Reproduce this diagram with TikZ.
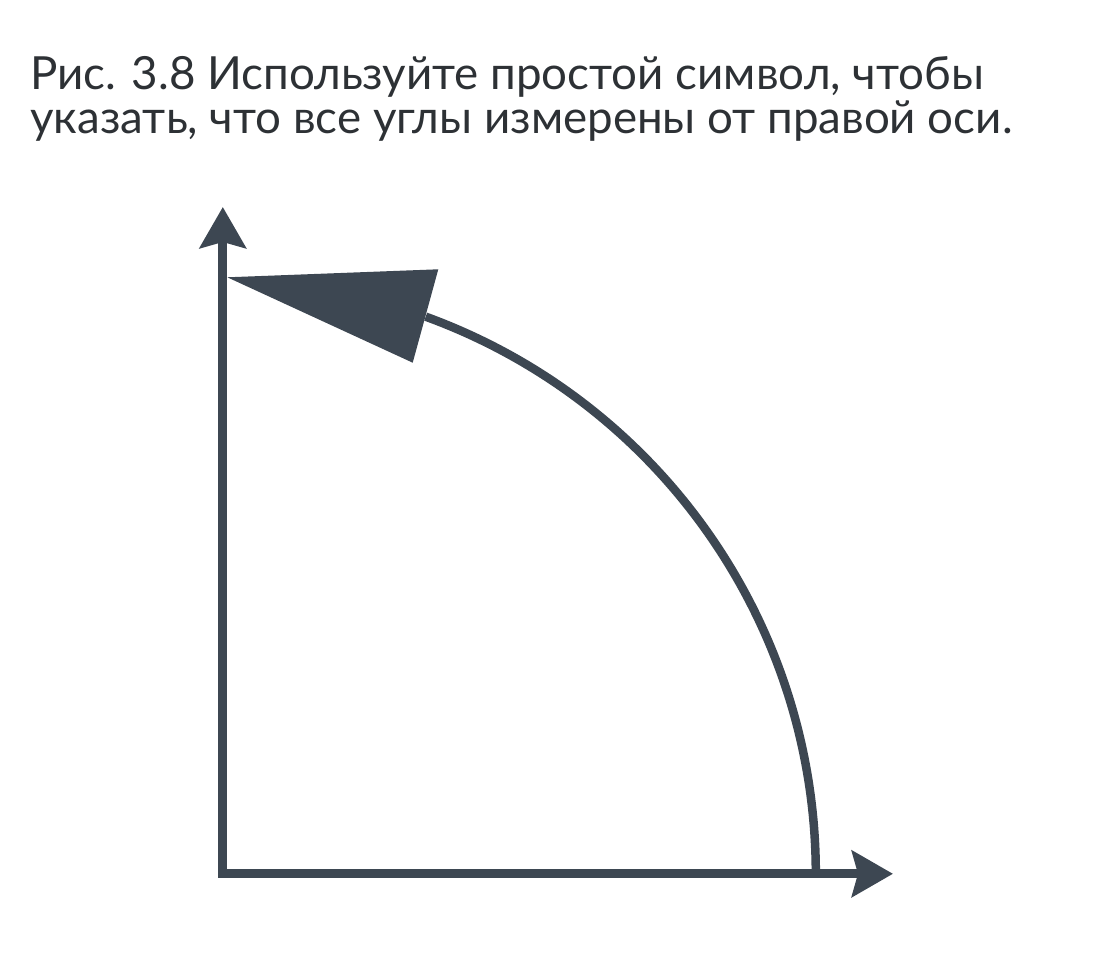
\documentclass[tikz,border=0pt]{standalone}
\usepackage{fontspec}
\setmainfont{Lato}
\usepackage{xcolor}
\usetikzlibrary{arrows.meta, calc}

\definecolor{inkgray}{RGB}{61,71,82}
\definecolor{textgray}{RGB}{45,49,53}

\begin{document}
\begin{tikzpicture}[x=0.02cm, y=0.02cm,
    axisline/.style={line width=0.18cm, color=inkgray, line join=miter,
        {Stealth[length=0.82cm, width=0.92cm, inset=0.12cm]}-{Stealth[length=0.82cm, width=0.92cm, inset=0.12cm]}},
    caption/.style={anchor=base west, inner sep=0pt, text=textgray,
        font=\fontsize{26pt}{30pt}\selectfont}]

    \useasboundingbox (0,0) rectangle (1097,960);

    % Caption (two lines)
    \node[caption] (title1) at (30,870) {Рис. 3.8 Используйте простой символ, чтобы};
    \node[caption] (title2) at (30,826) {указать, что все углы измерены от правой оси.};

    % Axes
    \coordinate (O) at (222.8,86.2);
    \coordinate (ytip) at (222.8,753);
    \coordinate (xtip) at (893,86.2);
    \draw[axisline] (ytip) -- (O) -- (xtip);

    % Angle arc
    \coordinate (arcstart) at ($(O)+(593,0)$);
    \draw[line width=0.17cm, color=inkgray] (arcstart) arc[start angle=0, end angle=70, radius=11.86cm];

    % Big arrowhead at the end of the arc
    \coordinate (headtip) at (227.3,682.7);
    \coordinate (headA) at (438.3,690.7);
    \coordinate (headB) at (412.7,597.3);
    \fill[inkgray] (headtip) -- (headA) -- (headB) -- cycle;

\end{tikzpicture}
\end{document}
